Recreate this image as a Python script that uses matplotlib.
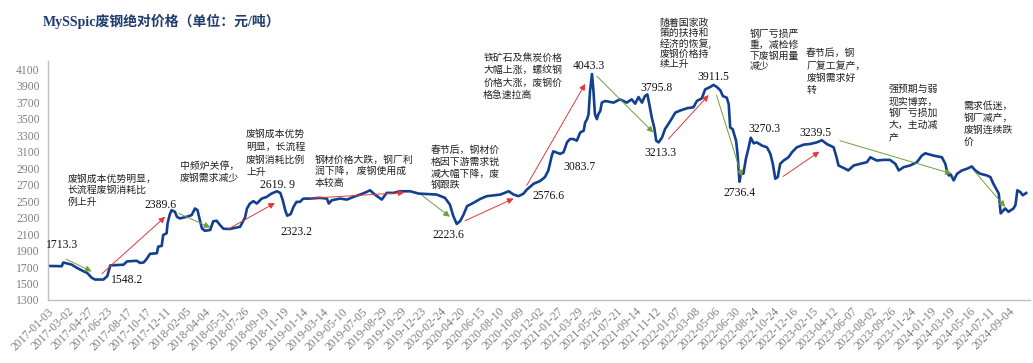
import matplotlib
matplotlib.use("Agg")
import matplotlib.pyplot as plt

# ── Données ───────────────────────────────────────────────────────────────────
# indice = rang du jour de cotation (une étiquette toutes les 40 séances)
TICK_LABELS = [
    "2017-01-03", "2017-03-02", "2017-04-27", "2017-06-23", "2017-08-17",
    "2017-10-17", "2017-12-11", "2018-02-05", "2018-04-04", "2018-05-31",
    "2018-07-26", "2018-09-19", "2018-11-19", "2019-01-14", "2019-03-14",
    "2019-05-10", "2019-07-05", "2019-08-29", "2019-10-29", "2019-12-23",
    "2020-02-24", "2020-04-20", "2020-06-15", "2020-08-10", "2020-10-09",
    "2020-12-02", "2021-01-27", "2021-03-29", "2021-05-26", "2021-07-21",
    "2021-09-14", "2021-11-12", "2022-01-07", "2022-03-08", "2022-05-06",
    "2022-06-30", "2022-08-24", "2022-10-24", "2022-12-16", "2023-02-15",
    "2023-04-12", "2023-06-07", "2023-08-02", "2023-09-26", "2023-11-24",
    "2024-01-19", "2024-03-19", "2024-05-16", "2024-07-11", "2024-09-04",
]
TICK_STEP = 40

idx = [
    0, 28, 31, 38, 48, 59, 72, 80, 89, 96, 113, 121, 127, 154, 161, 181, 188,
    195, 201, 208, 222, 225, 232, 235, 242, 244, 248, 252, 259, 263, 269, 283,
    293, 300, 305, 309, 314, 320, 331, 337, 344, 351, 358, 371, 392, 402, 406,
    412, 419, 426, 436, 446, 456, 467, 474, 479, 484, 488, 495, 501, 507, 514,
    521, 535, 555, 569, 573, 579, 596, 610, 623, 637, 650, 657, 667, 681, 691,
    705, 718, 739, 756, 793, 810, 820, 827, 834, 841, 848, 855, 868, 882, 895,
    923, 940, 950, 960, 970, 977, 991, 1004, 1014, 1021, 1028, 1031, 1045,
    1052, 1059, 1065, 1072, 1079, 1086, 1093, 1096, 1100, 1103, 1106, 1110,
    1113, 1116, 1120, 1123, 1127, 1130, 1137, 1154, 1167, 1181, 1191, 1198,
    1205, 1212, 1218, 1223, 1227, 1232, 1237, 1241, 1246, 1253, 1259, 1270,
    1280, 1290, 1304, 1317, 1324, 1334, 1341, 1351, 1358, 1365, 1372, 1377,
    1385, 1389, 1392, 1397, 1400, 1404, 1407, 1411, 1414, 1419, 1424, 1429,
    1434, 1440, 1446, 1457, 1467, 1474, 1479, 1484, 1489, 1494, 1501, 1511,
    1518, 1528, 1542, 1555, 1569, 1579, 1589, 1603, 1609, 1613, 1620, 1627,
    1633, 1644, 1657, 1671, 1678, 1691, 1705, 1718, 1729, 1736, 1746, 1759,
    1773, 1783, 1790, 1807, 1824, 1831, 1834, 1838, 1842, 1848, 1855, 1865,
    1875, 1885, 1892, 1902, 1916, 1923, 1929, 1940, 1944, 1953, 1960, 1970,
    1974, 1978, 1984, 1989, 1996,
]
prix = [
    1713.3, 1710, 1755, 1745, 1730, 1690, 1650, 1628, 1570, 1548.2, 1548, 1590,
    1720, 1728, 1768, 1776, 1750, 1755, 1796, 1860, 1868, 1948, 1957, 2089,
    2110, 2230, 2330, 2389.6, 2370, 2310, 2290, 2310, 2330, 2411, 2391, 2290,
    2170, 2140, 2150, 2255, 2262, 2210, 2165, 2162, 2189, 2300, 2411, 2471,
    2500, 2471, 2531, 2551, 2592, 2619.9, 2600, 2511, 2391, 2323.2, 2342, 2431,
    2491, 2491, 2531, 2531, 2540, 2531, 2471, 2511, 2531, 2519, 2551, 2580,
    2611, 2632, 2580, 2519, 2600, 2600, 2620, 2620, 2592, 2580, 2540, 2459,
    2318, 2223.6, 2258, 2338, 2439, 2479, 2527, 2560, 2580, 2620, 2580, 2560,
    2590, 2640, 2712, 2744, 2792, 2873, 3053, 3105, 3074, 3094, 3214, 3254,
    3254, 3234, 3334, 3355, 3455, 3495, 3556, 3837, 4043.3, 3837, 3556, 3495,
    3556, 3596, 3696, 3716, 3696, 3736, 3696, 3736, 3683, 3764, 3696, 3776,
    3795.8, 3676, 3515, 3394, 3234, 3213.3, 3274, 3375, 3475, 3575, 3600, 3628,
    3640, 3716, 3748, 3857, 3885, 3911.5, 3885, 3845, 3776, 3756, 3676, 3394,
    3374, 3315, 3234, 3074, 2736.4, 2833, 2833, 3013, 3134, 3270.3, 3202, 3214,
    3174, 3154, 3074, 2953, 2772, 2792, 2953, 2993, 3033, 3093, 3154, 3186,
    3194, 3214, 3239.5, 3194, 3154, 3033, 2933, 2913, 2893, 2873, 2933, 2953,
    2973, 3033, 2993, 3001, 3001, 2953, 2873, 2913, 2933, 2973, 3053, 3081,
    3053, 3033, 2953, 2873, 2812, 2824, 2752, 2833, 2873, 2893, 2921, 2873,
    2833, 2812, 2792, 2712, 2592, 2351, 2411, 2371, 2411, 2451, 2632, 2611,
    2571, 2599,
]

# étiquettes de valeurs : (texte, indice, prix)
val_txt = ["1713.3", "1548.2", "2389.6", "2619. 9", "2323.2", "2223.6",
           "2576.6", "3083.7", "4043.3", "3795.8", "3213.3", "3911.5",
           "2736.4", "3270.3", "3239.5"]
val_x = [29, 161, 230, 468, 506, 817, 1021, 1084, 1104, 1241, 1249, 1358,
         1410, 1461, 1565]
val_y = [1969, 1547, 2451, 2692, 2129, 2089, 2559, 2912, 4138, 3869, 3086,
         4005, 2599, 3375, 3322]

# commentaires (coin haut-gauche), une entrée par ligne
notes = [
    ["废钢成本优势明显，", "长流程废钢消耗比", "例上升"],
    ["中频炉关停，", "废钢需求减少"],
    ["废钢成本优势", "明显，长流程", "废钢消耗比例", "上升"],
    ["钢材价格大跌，钢厂利", "润下降， 废钢使用成", "本较高"],
    ["春节后，钢材价", "格因下游需求锐", "减大幅下降，废", "钢跟跌"],
    ["铁矿石及焦炭价格", "大幅上涨，螺纹钢", "价格大涨，废钢价", "格急速拉高"],
    ["随着国家政", "策的扶持和", "经济的恢复,", "废钢价格持", "续上升"],
    ["钢厂亏损严", "重，减检修", "下废钢用量", "减少"],
    ["春节后，钢", "厂复工复产，", "废钢需求好", "转"],
    ["强预期与弱", "现实博弈，", "钢厂亏损加", "大，主动减", "产"],
    ["需求低迷，", "钢厂减产，", "废钢连续跌", "价"],
]
notes_x = [40, 269, 404, 545, 780, 888, 1248, 1431, 1547, 1715, 1868]
notes_y = [2830, 2990, 3375, 3065, 3186, 4306, 4728, 4596, 4355, 3918, 3716]
notes_pas = [8.1, 9.1, 9.2, 8.4, 8.6, 9.0, 7.4, 7.9, 8.8, 8.6, 8.6]  # pt

# flèches de tendance : (départ x, départ y, pointe x, pointe y)
hausse = [(110, 1619, 239, 2310), (368, 2162, 463, 2478),
          (535, 2535, 727, 2604), (851, 2262, 950, 2532),
          (977, 2692, 1096, 3924), (1266, 3254, 1348, 3788),
          (1500, 2800, 1574, 3101)]
baisse = [(37, 1796, 89, 1647), (267, 2351, 331, 2180),
          (763, 2571, 820, 2310), (1120, 4017, 1235, 3334),
          (1364, 3788, 1416, 2800), (1616, 3234, 1844, 2833),
          (1892, 2852, 1953, 2430)]

# ── Figure ────────────────────────────────────────────────────────────────────
CJK = ["Noto Sans CJK SC", "DejaVu Sans"]
SERIF = ["Liberation Serif", "Noto Sans CJK SC"]

fig = plt.figure(figsize=(10.33, 3.63), dpi=100)
ax = fig.add_axes([0.0462, 0.1736, 0.951, 0.658])

ax.plot(idx, prix, color="#123f8f", lw=1.9, solid_joinstyle="round")

for x0, y0, x1, y1 in hausse:
    ax.annotate("", xy=(x1, y1), xytext=(x0, y0),
                arrowprops=dict(arrowstyle="-|>", color="#e0393b", lw=0.7,
                                mutation_scale=9, shrinkA=0, shrinkB=0))
for x0, y0, x1, y1 in baisse:
    ax.annotate("", xy=(x1, y1), xytext=(x0, y0),
                arrowprops=dict(arrowstyle="-|>", color="#6e9e3c", lw=0.7,
                                mutation_scale=9, shrinkA=0, shrinkB=0))

for t, x, y in zip(val_txt, val_x, val_y):
    ax.text(x, y, t, ha="center", va="center", fontsize=8.4,
            family=SERIF, color="#111111")

for lignes, x, y, pas in zip(notes, notes_x, notes_y, notes_pas):
    for k, ligne in enumerate(lignes):
        ax.annotate(ligne, xy=(x, y), xytext=(0, -k * pas),
                    textcoords="offset points", ha="left", va="top",
                    fontsize=7.1, family=CJK, color="#222222",
                    annotation_clip=False)

ax.set_xlim(-0.6, 2004)
ax.set_ylim(1300, 4200)
ax.set_yticks(range(1300, 4101, 200))
ax.set_xticks([i * TICK_STEP for i in range(len(TICK_LABELS))])
ax.set_xticklabels(TICK_LABELS, rotation=45, ha="right",
                   rotation_mode="anchor")

for lab in ax.get_xticklabels() + ax.get_yticklabels():
    lab.set_family(SERIF)
    lab.set_color("#7f7f7f")
    lab.set_fontsize(8.4)
ax.tick_params(axis="both", length=0)
ax.tick_params(axis="y", pad=6)
ax.tick_params(axis="x", pad=4)

for s in ["top", "right"]:
    ax.spines[s].set_visible(False)
for s in ["left", "bottom"]:
    ax.spines[s].set_color("#c0c0c0")
    ax.spines[s].set_linewidth(1.0)

fig.text(0.0416, 0.94, "MySSpic废钢绝对价格（单位：元/吨）", fontsize=10,
         fontweight="bold", color="#1f3b70", family=SERIF, va="center")

fig.savefig("out.png", dpi=100)
